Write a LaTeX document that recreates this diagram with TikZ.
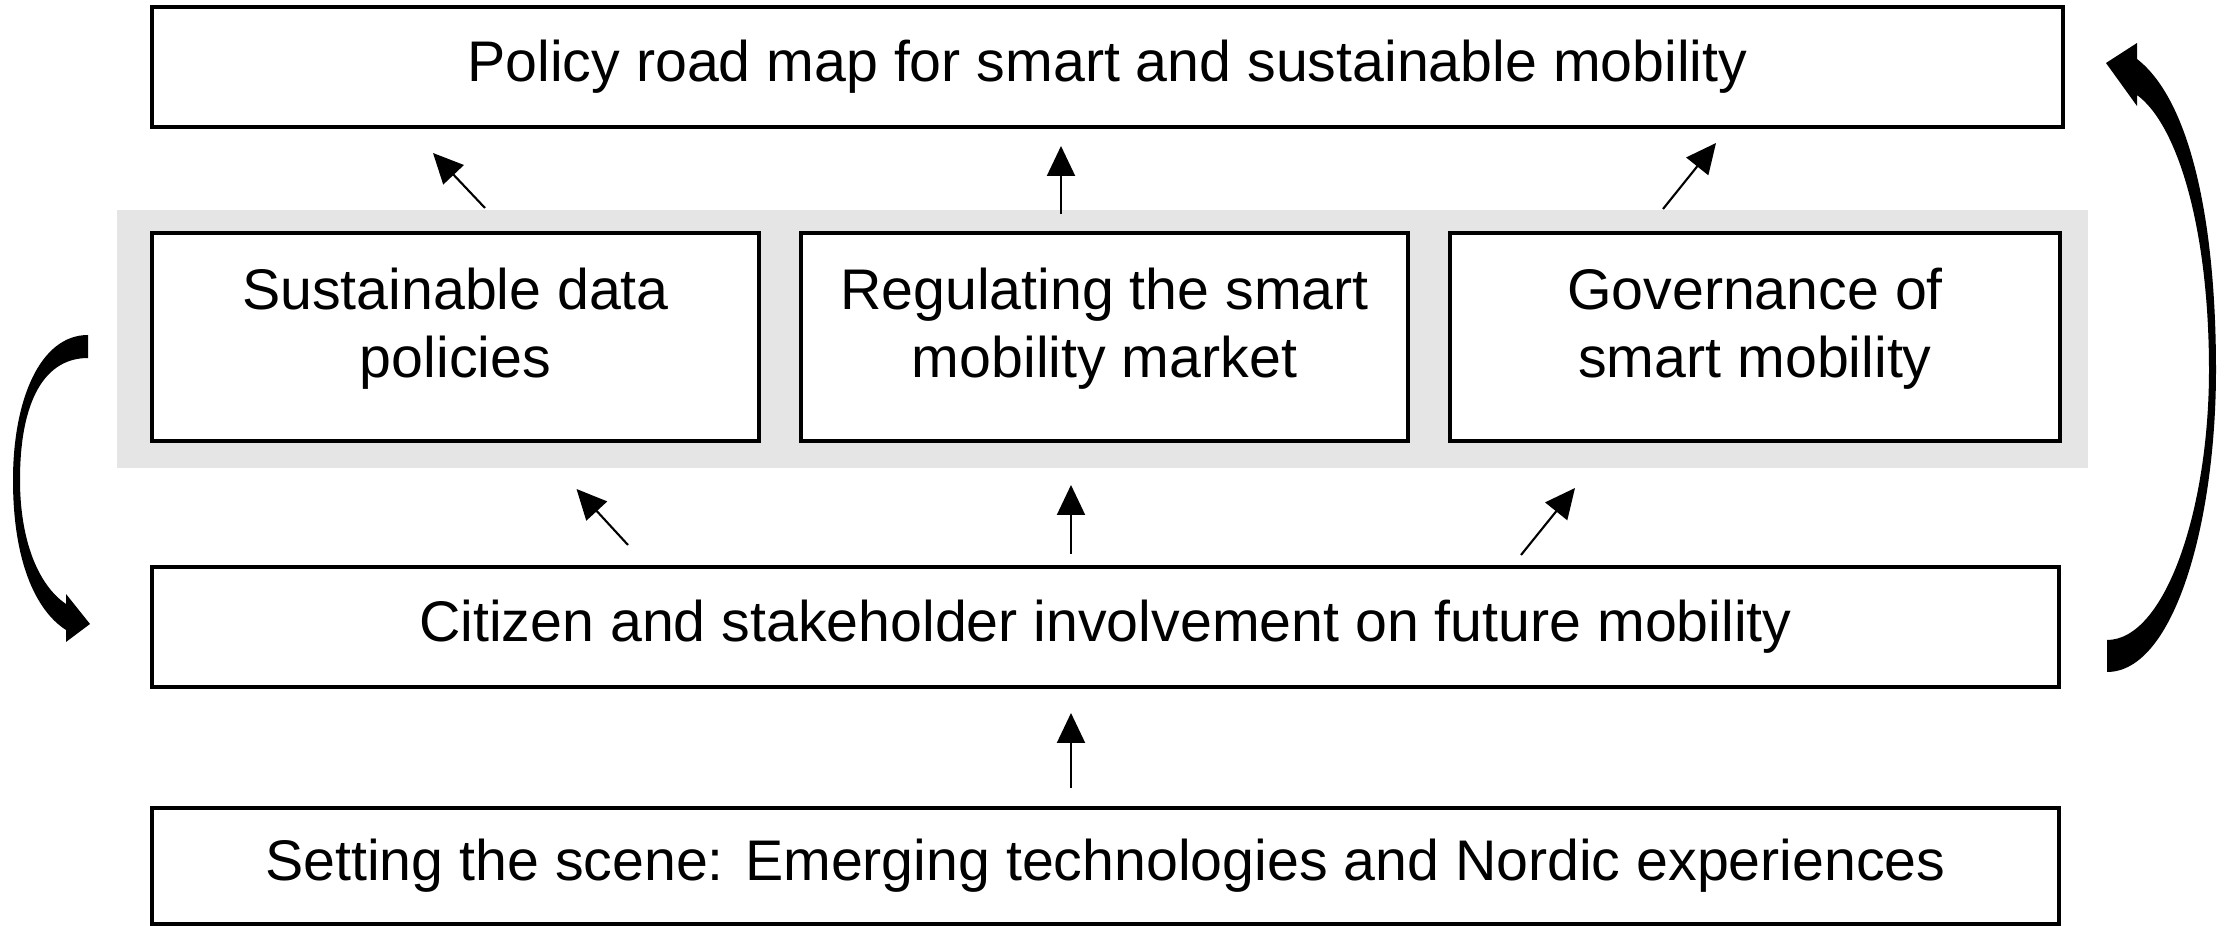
\documentclass[tikz,border=0pt]{standalone}
\usepackage{fontspec}
\setsansfont{Liberation Sans}
\usetikzlibrary{arrows.meta}
\definecolor{bandgray}{RGB}{229,229,229}

\begin{document}
\begin{tikzpicture}[font=\sffamily\fontsize{16.3}{19.4}\selectfont,
      box/.style={draw, line width=0.9pt, fill=white, align=center, inner sep=0pt},
      topic/.style={box, minimum height=2.08cm, text depth=8pt},
      link/.style={-{Triangle[length=0.3cm, width=0.28cm]}, line width=0.6pt},
      swing/.style={fill=black}]
      \useasboundingbox (0, 0) rectangle (22.24, 9.26);

      \fill [bandgray] (1.17, 4.58) rectangle (20.88, 7.16);

      \node [box, minimum width=19.11cm, minimum height=1.2cm] (roadmap) at (11.075, 8.59) {Policy road map for smart and sustainable mobility};
      \node [topic, minimum width=6.07cm] (data) at (4.555, 5.89) {Sustainable data\\policies};
      \node [topic, minimum width=6.07cm] (market) at (11.045, 5.89) {Regulating the smart\\mobility market};
      \node [topic, minimum width=6.1cm] (governance) at (17.55, 5.89) {Governance of\\smart mobility};
      \node [box, minimum width=19.07cm, minimum height=1.2cm] (citizen) at (11.055, 2.99) {Citizen and stakeholder involvement on future mobility};
      \node [box, minimum width=19.07cm, minimum height=1.16cm] (scene) at (11.055, 0.6) {Setting the scene: Emerging technologies and Nordic experiences};

      \coordinate (data-up) at (4.85, 7.18);
      \coordinate (data-tip) at (4.33, 7.73);
      \coordinate (market-up) at (10.61, 7.12);
      \coordinate (market-tip) at (10.61, 7.8);
      \coordinate (governance-up) at (16.63, 7.17);
      \coordinate (governance-tip) at (17.16, 7.83);
      \coordinate (citizen-1) at (6.28, 3.81);
      \coordinate (data-in) at (5.765, 4.37);
      \coordinate (citizen-2) at (10.71, 3.72);
      \coordinate (market-in) at (10.71, 4.41);
      \coordinate (citizen-3) at (15.21, 3.71);
      \coordinate (governance-in) at (15.75, 4.38);
      \coordinate (scene-up) at (10.71, 1.38);
      \coordinate (citizen-in) at (10.71, 2.13);

      \draw [link] (data-up) -- (data-tip);
      \draw [link] (market-up) -- (market-tip);
      \draw [link] (governance-up) -- (governance-tip);
      \draw [link] (citizen-1) -- (data-in);
      \draw [link] (citizen-2) -- (market-in);
      \draw [link] (citizen-3) -- (governance-in);
      \draw [link] (scene-up) -- (citizen-in);

      % curved arrows on the sides
      \fill [swing] (0.88, 5.91) .. controls (0.4, 5.91) and (0.13, 5.26) .. (0.13, 4.46)
            .. controls (0.13, 3.66) and (0.35, 3.16) .. (0.66, 2.96)
            -- (0.66, 2.84) -- (0.9, 3.02) -- (0.66, 3.32) -- (0.66, 3.22)
            .. controls (0.38, 3.41) and (0.2, 3.86) .. (0.2, 4.46)
            .. controls (0.2, 5.26) and (0.45, 5.68) .. (0.88, 5.68) -- cycle;
      \fill [swing] (21.07, 2.54) .. controls (21.75, 2.54) and (22.16, 4.06) .. (22.16, 5.56)
            .. controls (22.16, 7.06) and (21.9, 8.26) .. (21.37, 8.67)
            -- (21.37, 8.83) -- (21.06, 8.63) -- (21.37, 8.2) -- (21.37, 8.31)
            .. controls (21.78, 8.01) and (22.09, 6.96) .. (22.09, 5.56)
            .. controls (22.09, 4.16) and (21.65, 2.86) .. (21.07, 2.86) -- cycle;
   \end{tikzpicture}
\end{document}
